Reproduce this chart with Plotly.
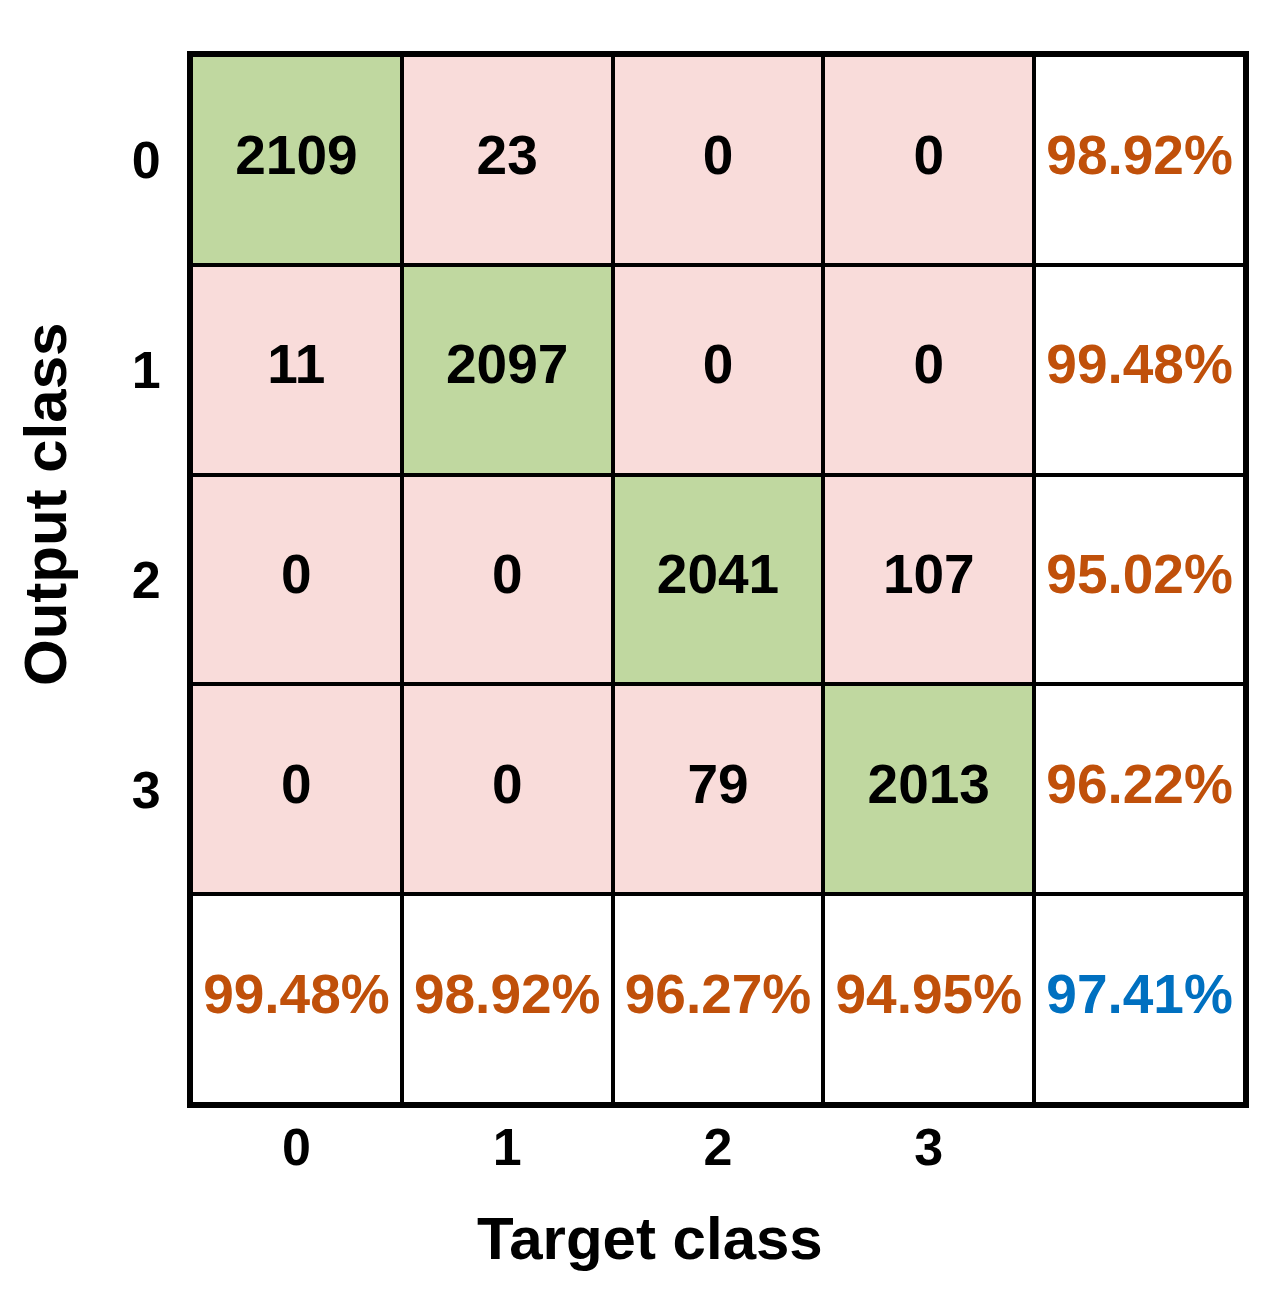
import plotly.graph_objects as go

# ---- data ----
classes = ["0", "1", "2", "3"]
counts = [
    [2109, 23, 0, 0],
    [11, 2097, 0, 0],
    [0, 0, 2041, 107],
    [0, 0, 79, 2013],
]
row_pct = [98.92, 99.48, 95.02, 96.22]   # per output class
col_pct = [99.48, 98.92, 96.27, 94.95]   # per target class
overall_pct = 97.41

GREEN = "#C0D8A0"
PINK = "#F9DCDA"
ORANGE = "#C0500A"
BLUE = "#0070C0"
FONT = "Liberation Sans, Arial, sans-serif"

n = len(classes)
N = n + 1

# category codes: 0 white summary, 1 off-diagonal, 2 diagonal
z = []
for r in range(N):
    row = []
    for c in range(N):
        if r < n and c < n:
            row.append(2 if r == c else 1)
        else:
            row.append(0)
    z.append(row)

heat = go.Heatmap(
    z=z, x=list(range(N)), y=list(range(N)),
    colorscale=[[0, "white"], [0.333, "white"], [0.334, PINK], [0.666, PINK], [0.667, GREEN], [1, GREEN]],
    zmin=0, zmax=2, showscale=False, xgap=4, ygap=4, hoverinfo="skip",
)

tx, ty, tt, tc = [], [], [], []
for r in range(n):
    for c in range(n):
        tx.append(c); ty.append(r); tt.append(str(counts[r][c])); tc.append("black")
    tx.append(n); ty.append(r); tt.append(f"{row_pct[r]:.2f}%"); tc.append(ORANGE)
for c in range(n):
    tx.append(c); ty.append(n); tt.append(f"{col_pct[c]:.2f}%"); tc.append(ORANGE)
tx.append(n); ty.append(n); tt.append(f"{overall_pct:.2f}%"); tc.append(BLUE)

txt = go.Scatter(
    x=tx, y=ty, text=tt, mode="text",
    textfont=dict(family=FONT, size=55, color=tc, weight="bold"),
    hoverinfo="skip", showlegend=False,
)

fig = go.Figure([heat, txt])
fig.update_layout(
    width=1288, height=1299,
    margin=dict(l=183, r=51, t=47, b=203),
    paper_bgcolor="white", plot_bgcolor="black",
    font=dict(family=FONT, color="black"),
    showlegend=False,
)
fig.update_xaxes(
    range=[-0.5, N - 0.5], tickvals=list(range(n)), ticktext=classes,
    tickfont=dict(family=FONT, size=52, weight="bold", color="black"),
    showgrid=False, zeroline=False, showline=True, mirror=True,
    linecolor="black", linewidth=4, ticks="", ticklabelstandoff=-5,
)
fig.update_yaxes(
    range=[N - 0.5, -0.5], tickvals=list(range(n)), ticktext=classes,
    tickfont=dict(family=FONT, size=52, weight="bold", color="black"),
    showgrid=False, zeroline=False, showline=True, mirror=True,
    linecolor="black", linewidth=4, ticks="", ticklabelstandoff=16,
)
fig.add_annotation(
    text="Target class", xref="paper", yref="paper",
    x=(650 - 191) / 1054, y=-(1238 - 1104) / 1049,
    xanchor="center", yanchor="middle", showarrow=False,
    font=dict(family=FONT, size=60, weight="bold", color="black"),
)
fig.add_annotation(
    text="Output class", xref="paper", yref="paper",
    x=-(191 - 45) / 1054, y=(1104 - 505) / 1049, textangle=-90,
    xanchor="center", yanchor="middle", showarrow=False,
    font=dict(family=FONT, size=60, weight="bold", color="black"),
)
fig.write_html("out.html")
